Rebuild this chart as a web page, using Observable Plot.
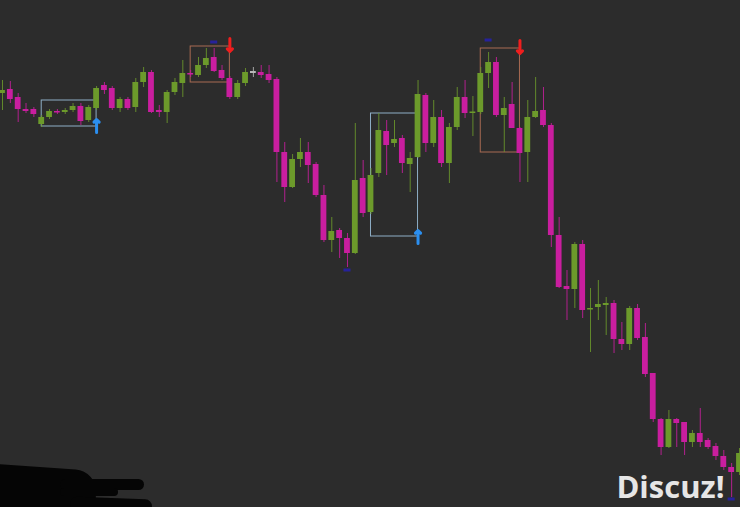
<!DOCTYPE html>
<html>
<head>
<meta charset="utf-8">
<script src="https://cdn.jsdelivr.net/npm/d3@7"></script>
<script src="https://cdn.jsdelivr.net/npm/@observablehq/plot@0.6"></script>
<style>
  html, body { margin: 0; padding: 0; background: #2c2c2c; }
  #wrap { position: relative; width: 740px; height: 507px; overflow: hidden; background: #2c2c2c; }
  .blob { position: absolute; background: #050505; }
</style>
</head>
<body>
<div id="wrap">
  <div id="chart"></div>
  <div class="blob" style="left:-20px; top:467px; width:116px; height:50px; border-radius: 0 22px 0 0; transform: rotate(4deg);"></div>
  <div class="blob" style="left:60px; top:479px; width:84px; height:11px; border-radius: 6px;"></div>
  <div class="blob" style="left:60px; top:488px; width:58px; height:8px; border-radius: 5px;"></div>
  <div class="blob" style="left:70px; top:498px; width:82px; height:14px; border-radius: 7px; transform: rotate(2deg);"></div>
</div>
<script>
// candle series (price units)
const open  = [414,418,410,398,398,383,390,396,395,397,401,387,399,422,419,399,408,400,425,435,397,395,415,424,434,432,442,450,437,429,410,424,435,435,433,428,355,320,348,355,343,312,267,277,269,254,329,295,334,376,364,369,343,350,412,364,390,344,380,410,394,395,434,445,392,403,379,355,390,397,382,272,221,218,263,197.5,200,202,204,168,163,199,170,134,88,60,88,85,65,74,67,61,51,40,35];
const close = [417,408,398,396,393,390,396,394.5,397,401,386,400,419,417,399,408,399,425,435,395,395,415,425,434,432.5,442,449,436,429,410,424,435,435,432,427,355,320,348,355,342,312,267,276,269,254,327,294,332,377,362,368,344,349,413,364,390,344,380,410,394,395.5,434,445,392,399,379,354,390,396,382,272,220,218,263,197,199,203,204,168,163,199,169,133,88,60,88,84,65,74,65,60,51,40,35,54];
const high  = [427,426,414,404,400,392,398,398,399,404,404,402,421,425,421,410,410,429,440,437,402,417,429,447,437,450,459,459,442,431,427,439,440,442,442,430,365,353,369,365,345,322,290,279,274,384,347,339,394,387,387,372,355,427,414,407,397,384,420,427,411,440,455,450,410,425,380,407,430,420,384,290,237,265,267,219,227,210,207,185,201,203,184,134,89,97,89,85,77,99,69,64,57,44,59];
const low   = [397,404,385,394,390,380,388,393,393,395,382,385,397,413,397,395,397,395,420,394,390,384,412,410,430,430,439,435,427,408,408,421,430,429,424,325,305,319,340,324,310,265,255,249,240,253,290,293,330,332,360,334,315,349,355,360,340,324,377,389,371,393,419,390,355,379,325,325,389,380,260,219,187,199,189,155,187,172,154,157,157,167,130,85,52,59,60,52,60,60,58,47,37,10,32];

// annotation boxes: [first candle, last candle, top price, bottom price, kind]
const boxStart = [5, 24, 47, 61];
const boxEnd   = [12, 29, 53, 66];
const boxTop   = [407, 461, 394, 459];
const boxBot   = [381, 425, 271, 355];
const boxKind  = ["buy", "sell", "buy", "sell"];

// signal arrows
const upIdx = [12, 53];
const upPrice = [375, 264];
const downIdx = [29, 66];
const downPrice = [469, 467];

// extreme markers
const markIdx = [27, 44, 62, 93];
const markPrice = [465, 237, 467, 8];

const PINK = "#c91e9f", GREEN = "#6c9a2b", GREY = "#b8b8b8";

const candles = open.map((o, i) => {
  const c = close[i];
  return {i, o, c, h: high[i], l: low[i],
          col: c > o ? GREEN : c < o ? PINK : GREY};
});
const flat = candles.filter(d => d.o === d.c);
const boxes = boxStart.map((s, k) => ({s, e: boxEnd[k], t: boxTop[k], b: boxBot[k],
  col: boxKind[k] === "buy" ? "#8eaec6" : "#a86a52"}));
const ups = upIdx.map((i, k) => ({i, p: upPrice[k]}));
const downs = downIdx.map((i, k) => ({i, p: downPrice[k]}));
const marks = markIdx.map((i, k) => ({i, p: markPrice[k]}));

const hw = 0.37;
const chart = Plot.plot({
  width: 740,
  height: 507,
  margin: 0,
  style: {background: "transparent"},
  x: {domain: [-0.255, 94.13], axis: null},
  y: {domain: [0, 507], axis: null},
  marks: [
    Plot.rect(boxes, {x1: "s", x2: "e", y1: "b", y2: "t", fill: "none", stroke: "col", strokeWidth: 1}),
    Plot.ruleX(candles, {x: "i", y1: "l", y2: "h", stroke: "col", strokeWidth: 1, strokeOpacity: 0.85}),
    Plot.rect(candles, {x1: d => d.i - hw, x2: d => d.i + hw, y1: "o", y2: "c", fill: "col"}),
    Plot.rect(flat, {x1: d => d.i - hw, x2: d => d.i + hw, y1: "o", y2: "c", fill: "col", insetTop: -1, insetBottom: -1}),
    Plot.rect(marks, {x1: d => d.i - 0.45, x2: d => d.i + 0.45, y1: d => d.p - 1.5, y2: d => d.p + 1.5, fill: "#26229a"}),
    Plot.vector(ups, {x: "i", y: "p", length: 13, rotate: 0, anchor: "start", stroke: "#2b8ff0", strokeWidth: 3, shape: "arrow"}),
    Plot.vector(downs, {x: "i", y: "p", length: 13, rotate: 180, anchor: "start", stroke: "#f01e1e", strokeWidth: 3, shape: "arrow"}),
    Plot.text(["Discuz!"], {frameAnchor: "bottom-right", dx: -16, dy: -10, text: d => d, fontSize: 31, fontWeight: "bold", fill: "#e6e6e6", fontFamily: "Open Sans", textAnchor: "end", lineAnchor: "bottom"})
  ]
});
document.getElementById("chart").appendChild(chart);
</script>
</body>
</html>
